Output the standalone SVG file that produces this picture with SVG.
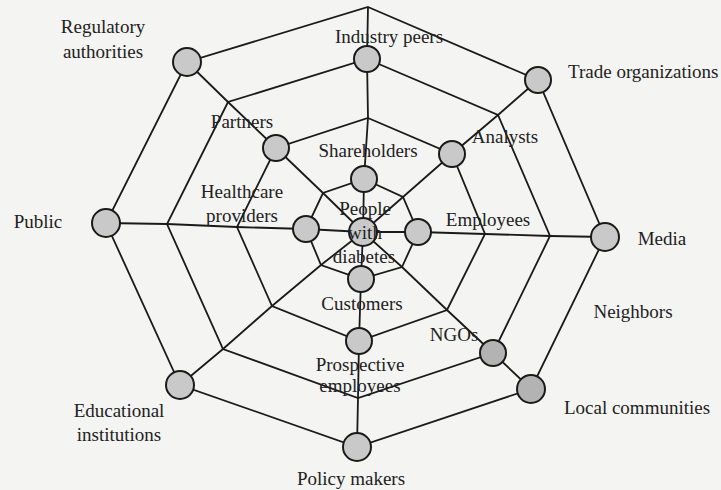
<svg xmlns="http://www.w3.org/2000/svg" width="721" height="490" viewBox="0 0 721 490">
<style>
.bg{fill:#f4f4f2}
.ln{fill:none;stroke:#1a1a1a;stroke-width:1.8;stroke-linejoin:miter}
.nd{fill:#c9c9c9;stroke:#1a1a1a;stroke-width:2}
.dk{fill:#b3b3b3}
.t{font-family:"Liberation Serif","Times New Roman",serif;font-size:19px;fill:#222;text-anchor:middle}
.ts{text-anchor:start}
</style>
<rect class="bg" x="0" y="0" width="721" height="490"/>
<g id="connectors">
  <polygon class="ln" points="364,179 403,197 418,232 402,267 361,279 321,265 306,229 323,193"/>
  <polygon class="ln" points="368,118 452,154 485,234 447,310 359,341 272,306 237,227 276,148"/>
  <polygon class="ln" points="367,59 498,115 550,236 493,353 358,398 223,349 167,224 228,102"/>
  <polygon class="ln" points="368,7 538,80 605,237 531,389 357,447 180,385 106,223 187,62"/>
  <polyline class="ln" points="368,7 367,59 368,118 364,179 363,232 361,279 359,341 358,398 357,447"/>
  <polyline class="ln" points="106,223 167,224 237,227 306,229 363,232 418,232 485,234 550,236 605,237"/>
  <polyline class="ln" points="187,62 228,102 276,148 323,193 363,232 402,267 447,310 493,353 531,389"/>
  <polyline class="ln" points="538,80 498,115 452,154 403,197 363,232 321,265 272,306 223,349 180,385"/>
</g>
<g id="node-people-with-diabetes">
  <circle class="nd" cx="363" cy="232" r="14"/>
  <text class="t" x="365" y="215">People</text>
  <text class="t" x="365" y="239">with</text>
  <text class="t" x="364" y="263">diabetes</text>
</g>
<g id="node-shareholders">
  <circle class="nd" cx="364" cy="179" r="13"/>
  <text class="t" x="368" y="157">Shareholders</text>
</g>
<g id="node-healthcare-providers">
  <circle class="nd" cx="306" cy="229" r="13"/>
  <text class="t" x="242" y="198">Healthcare</text>
  <text class="t" x="242" y="222">providers</text>
</g>
<g id="node-employees">
  <circle class="nd" cx="418" cy="232" r="13"/>
  <text class="t" x="488" y="226">Employees</text>
</g>
<g id="node-customers">
  <circle class="nd" cx="361" cy="279" r="13"/>
  <text class="t" x="362" y="310">Customers</text>
</g>
<g id="node-partners">
  <circle class="nd" cx="276" cy="148" r="13"/>
  <text class="t" x="242" y="128">Partners</text>
</g>
<g id="node-analysts">
  <circle class="nd" cx="452" cy="154" r="13"/>
  <text class="t" x="505" y="143">Analysts</text>
</g>
<g id="node-prospective-employees">
  <circle class="nd" cx="359" cy="341" r="13"/>
  <text class="t" x="360" y="371">Prospective</text>
  <text class="t" x="360" y="392">employees</text>
</g>
<g id="node-industry-peers">
  <circle class="nd" cx="367" cy="59" r="13"/>
  <text class="t" x="389" y="43">Industry peers</text>
</g>
<g id="node-ngos">
  <circle class="nd dk" cx="493" cy="353" r="13"/>
  <text class="t" x="454" y="341">NGOs</text>
</g>
<g id="node-regulatory-authorities">
  <circle class="nd" cx="187" cy="62" r="14"/>
  <text class="t" x="103" y="33">Regulatory</text>
  <text class="t" x="103" y="58">authorities</text>
</g>
<g id="node-trade-organizations">
  <circle class="nd" cx="538" cy="80" r="13"/>
  <text class="t ts" x="568" y="78">Trade organizations</text>
</g>
<g id="node-public">
  <circle class="nd" cx="106" cy="223" r="14"/>
  <text class="t" x="38" y="228">Public</text>
</g>
<g id="node-media">
  <circle class="nd" cx="605" cy="237" r="14"/>
  <text class="t" x="662" y="245">Media</text>
</g>
<g id="label-neighbors">
  <text class="t" x="633" y="318">Neighbors</text>
</g>
<g id="node-educational-institutions">
  <circle class="nd" cx="180" cy="385" r="14"/>
  <text class="t" x="119" y="417">Educational</text>
  <text class="t" x="119" y="441">institutions</text>
</g>
<g id="node-local-communities">
  <circle class="nd dk" cx="531" cy="389" r="14"/>
  <text class="t" x="637" y="414">Local communities</text>
</g>
<g id="node-policy-makers">
  <circle class="nd" cx="357" cy="447" r="14"/>
  <text class="t" x="351" y="485">Policy makers</text>
</g>
</svg>
